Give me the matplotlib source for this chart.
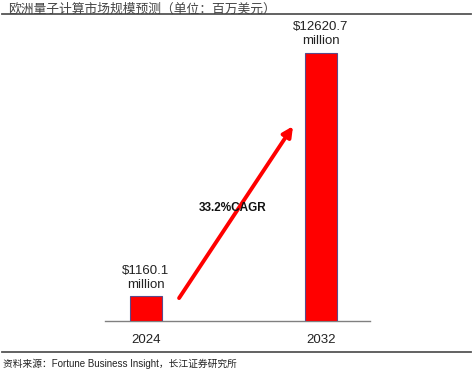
import matplotlib
matplotlib.use("Agg")
import matplotlib.pyplot as plt
from matplotlib.lines import Line2D

plt.rcParams['font.family'] = ['Noto Sans CJK SC', 'DejaVu Sans']

title = "欧洲量子计算市场规模预测（单位：百万美元）"
source = "资料来源：Fortune Business Insight，长江证券研究所"
years = ["2024", "2032"]
values = [1160.1, 12620.7]
value_labels = ["$1160.1\nmillion", "$12620.7\nmillion"]
cagr_label = "33.2%CAGR"

W, H = 473, 372
fig = plt.figure(figsize=(W / 100, H / 100), dpi=100)

# axes geometry in pixels
ax_left, ax_right = 105, 370
ax_base, ax_top = 321, 20
ax = fig.add_axes([ax_left / W, 1 - ax_base / H, (ax_right - ax_left) / W, (ax_base - ax_top) / H])

x = [0, 1]
unit = 175.0
ax.bar(x, values, width=32 / unit, color="#FF0000", edgecolor="#5B4A8A", linewidth=0.8, zorder=3)
ax.set_xlim(-(146 - ax_left) / unit, 1 + (ax_right - 321) / unit)
ymax = values[1] * (ax_base - ax_top) / (ax_base - 53)
ax.set_ylim(0, ymax)

for s in ["top", "right", "left"]:
    ax.spines[s].set_visible(False)
ax.spines["bottom"].set_color("#808080")
ax.spines["bottom"].set_linewidth(1.0)
ax.set_yticks([])
ax.set_xticks(x)
ax.set_xticklabels(years, fontsize=9.5, color="#222222", family=["Liberation Sans", "DejaVu Sans"])
ax.tick_params(axis="x", length=0, pad=9.5)

for xi, v, lab in zip(x, values, value_labels):
    ax.annotate(lab, (xi, v), xytext=(0, 4), textcoords="offset points", ha="center", va="bottom",
                fontsize=9.5, color="#222222", family=["Liberation Sans", "DejaVu Sans"], linespacing=1.25)

# CAGR arrow
ax.annotate("", xy=(0.84, values[1] * 0.727), xytext=(0.189, values[0] * 0.93),
            arrowprops=dict(arrowstyle="-|>,head_length=0.6,head_width=0.3", color="#FF0000", lw=2.8,
                            shrinkA=0, shrinkB=0), zorder=4)
ax.text(0.497, values[1] * 0.4216, cagr_label, ha="center", va="center", fontsize=8.5, fontweight="bold",
        color="#111111", family=["Liberation Sans", "DejaVu Sans"], zorder=5)

# title and source
fig.text(8 / W, 1 - 9 / H, title, ha="left", va="center", fontsize=9.2, color="#444444")
fig.add_artist(Line2D([2 / W, 471 / W], [1 - 14 / H, 1 - 14 / H], color="#555555", lw=1.3))
fig.add_artist(Line2D([2 / W, 471 / W], [1 - 352 / H, 1 - 352 / H], color="#555555", lw=1.3))
fig.text(3 / W, 1 - 364 / H, source, ha="left", va="center", fontsize=7.0, color="#222222",
         family=["Liberation Sans", "Noto Sans CJK SC"])

fig.savefig("out.png", dpi=100)
